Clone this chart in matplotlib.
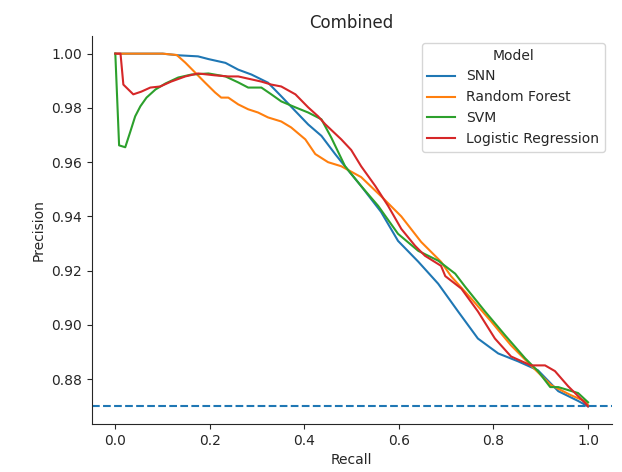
import numpy as np
import matplotlib
matplotlib.use("Agg")
import matplotlib.pyplot as plt

# precision-recall curves
snn_recall = [0.0, 0.10, 0.133, 0.175, 0.197, 0.233, 0.260, 0.288, 0.323, 0.351, 0.381,
              0.408, 0.436, 0.465, 0.488, 0.520, 0.562, 0.598, 0.641, 0.683, 0.725,
              0.767, 0.810, 0.852, 0.894, 0.937, 0.979, 1.0]
snn_prec = [1.0, 1.0, 0.9994, 0.999, 0.998, 0.9966, 0.9941, 0.9923, 0.9893, 0.9843, 0.9788,
            0.9739, 0.9697, 0.963, 0.958, 0.9512, 0.9417, 0.931, 0.9233, 0.9152, 0.905,
            0.895, 0.8895, 0.8866, 0.8833, 0.8756, 0.872, 0.870]

rf_recall = [0.0, 0.10, 0.13, 0.148, 0.169, 0.190, 0.211, 0.224, 0.239, 0.260, 0.281,
             0.302, 0.323, 0.351, 0.372, 0.402, 0.423, 0.450, 0.478, 0.520, 0.562,
             0.605, 0.647, 0.689, 0.710, 0.753, 0.795, 0.837, 0.879, 0.922, 0.964,
             0.994, 1.0]
rf_prec = [1.0, 1.0, 0.9995, 0.9967, 0.993, 0.9893, 0.9857, 0.9838, 0.9838, 0.9813, 0.9795,
           0.9783, 0.9765, 0.975, 0.9728, 0.9684, 0.963, 0.960, 0.9585, 0.9545, 0.9475,
           0.940, 0.9306, 0.9233, 0.918, 0.9097, 0.9013, 0.8925, 0.8851, 0.8778, 0.8741,
           0.8719, 0.8705]

svm_recall = [0.0, 0.008, 0.021, 0.032, 0.042, 0.053, 0.066, 0.085, 0.106, 0.133, 0.161,
              0.197, 0.233, 0.260, 0.281, 0.309, 0.330, 0.351, 0.381, 0.408, 0.436,
              0.457, 0.486, 0.520, 0.556, 0.598, 0.641, 0.683, 0.719, 0.740, 0.782,
              0.825, 0.867, 0.894, 0.920, 0.937, 0.979, 1.0]
svm_prec = [1.0, 0.9662, 0.9655, 0.9714, 0.9769, 0.9806, 0.9838, 0.9868, 0.989, 0.9912, 0.9923,
            0.9927, 0.9916, 0.9894, 0.9875, 0.9875, 0.985, 0.9824, 0.9802, 0.9783, 0.9758,
            0.9690, 0.9585, 0.9512, 0.9439, 0.9336, 0.9273, 0.9237, 0.9189, 0.9141, 0.905,
            0.8961, 0.8877, 0.883, 0.8771, 0.8771, 0.8749, 0.8715]

lr_recall = [0.0, 0.011, 0.017, 0.038, 0.055, 0.074, 0.095, 0.118, 0.148, 0.175, 0.211,
             0.239, 0.260, 0.309, 0.330, 0.351, 0.381, 0.408, 0.429, 0.444, 0.478,
             0.499, 0.520, 0.550, 0.577, 0.605, 0.634, 0.655, 0.689, 0.698, 0.732,
             0.767, 0.803, 0.837, 0.879, 0.909, 0.930, 0.958, 0.994, 1.0]
lr_prec = [1.0, 1.0, 0.9886, 0.985, 0.986, 0.9875, 0.9879, 0.9897, 0.9916, 0.9927, 0.992,
           0.9916, 0.9916, 0.9897, 0.9886, 0.9879, 0.985, 0.9802, 0.9769, 0.974, 0.9684,
           0.9645, 0.9585, 0.9512, 0.9439, 0.9354, 0.9292, 0.9255, 0.9218, 0.918, 0.9134,
           0.905, 0.895, 0.8884, 0.8851, 0.8851, 0.883, 0.8774, 0.8712, 0.870]

baseline = 0.87

plt.rcParams['axes.edgecolor'] = '.15'
plt.rcParams['text.color'] = '.15'
plt.rcParams['axes.labelcolor'] = '.15'
plt.rcParams['xtick.color'] = '.15'
plt.rcParams['ytick.color'] = '.15'

fig = plt.figure(figsize=(6.22, 4.72), dpi=100)
ax = fig.add_axes([0.1474, 0.1017, 0.836, 0.822])

ax.plot(snn_recall, snn_prec, color='C0', lw=1.5, label='SNN')
ax.plot(rf_recall, rf_prec, color='C1', lw=1.5, label='Random Forest')
ax.plot(svm_recall, svm_prec, color='C2', lw=1.5, label='SVM')
ax.plot(lr_recall, lr_prec, color='C3', lw=1.5, label='Logistic Regression')
ax.axhline(baseline, color='C0', ls='--', lw=1.5)

ax.set_xlim(-0.05, 1.05)
ax.set_ylim(0.8635, 1.0065)
ax.set_xticks(np.arange(0, 1.01, 0.2))
ax.set_yticks(np.arange(0.88, 1.001, 0.02))
ax.set_xlabel('Recall')
ax.set_ylabel('Precision')
ax.set_title('Combined', fontsize=12)
ax.spines['top'].set_visible(False)
ax.spines['right'].set_visible(False)
ax.legend(title='Model', loc='upper right')

fig.savefig('out.png', dpi=100)
